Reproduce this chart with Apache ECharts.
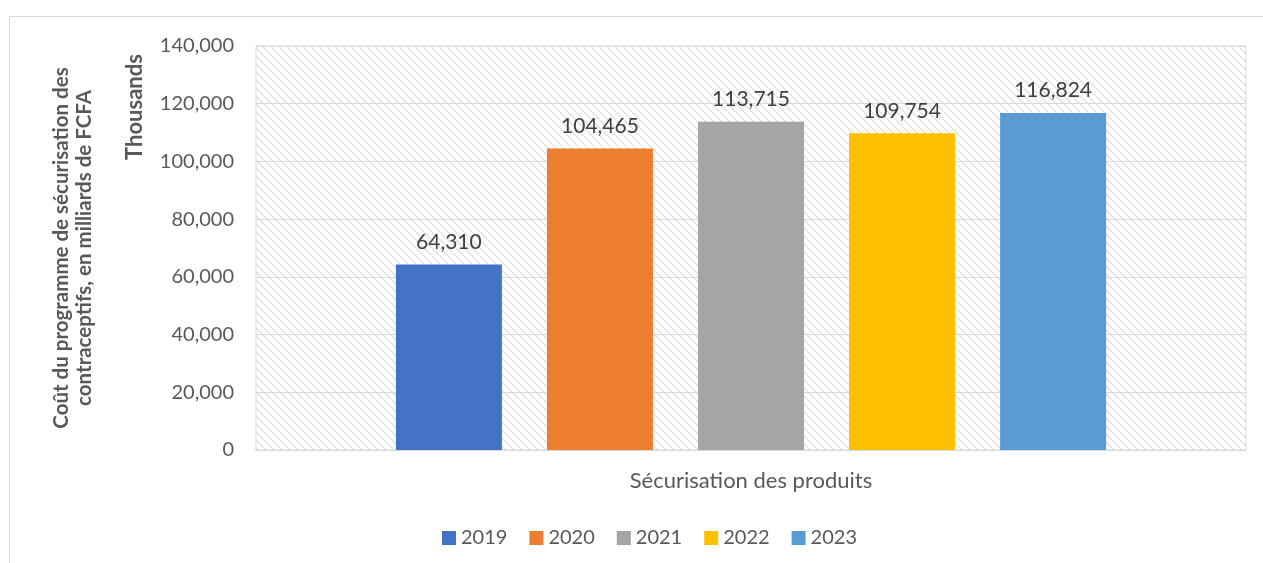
<!DOCTYPE html>
<html>
<head>
<meta charset="utf-8">
<script src="https://cdn.jsdelivr.net/npm/echarts@6/dist/echarts.min.js"></script>
<style>
  html, body { margin: 0; padding: 0; background: #ffffff; }
  #chart { width: 1263px; height: 563px; }
</style>
</head>
<body>
<div id="chart"></div>
<script>
// Chart data (values in thousands)
const categories = ['Sécurisation des produits'];
const years = ['2019', '2020', '2021', '2022', '2023'];
const values = [64310, 104465, 113715, 109754, 116824];
const colors = ['#4472C4', '#ED7D31', '#A5A5A5', '#FFC000', '#5B9BD5'];
const yTicks = { min: 0, max: 140000, interval: 20000 };
const yTitle = 'Coût du programme de sécurisation des\ncontraceptifs, en milliards de FCFA';
const unitLabel = 'Thousands';

const FONT = 'Lato, "Open Sans", sans-serif';
const fmt = v => Number(v).toLocaleString('en-US');

// Light diagonal hatch for the plot background
function hatchPattern() {
  const c = document.createElement('canvas');
  c.width = 8; c.height = 8;
  const ctx = c.getContext('2d');
  ctx.fillStyle = '#ffffff';
  ctx.fillRect(0, 0, 8, 8);
  ctx.strokeStyle = '#e6e6e6';
  ctx.lineWidth = 1.8;
  for (let x = -8; x <= 8; x += 8) {
    ctx.beginPath();
    ctx.moveTo(x, 0);
    ctx.lineTo(x + 8, 8);
    ctx.stroke();
  }
  return { image: c, repeat: 'repeat' };
}

const chart = echarts.init(document.getElementById('chart'), null, { renderer: 'canvas' });

const series = years.map((y, i) => ({
  name: y,
  type: 'bar',
  data: [values[i]],
  barWidth: 106,
  barGap: '42.5%',
  itemStyle: { color: colors[i] },
  label: {
    show: true,
    position: 'top',
    distance: 12,
    formatter: p => fmt(p.value),
    fontFamily: FONT,
    fontSize: 21,
    color: '#404040'
  }
}));

chart.setOption({
  animation: false,
  backgroundColor: '#ffffff',
  textStyle: { fontFamily: FONT },
  grid: {
    left: 256, right: 17, top: 46, bottom: 113,
    show: true,
    borderColor: '#d9d9d9',
    borderWidth: 1,
    backgroundColor: hatchPattern()
  },
  legend: {
    data: years,
    left: 437,
    top: 523,
    icon: 'rect',
    itemWidth: 14,
    itemHeight: 14,
    itemGap: 22,
    textStyle: { fontFamily: FONT, fontSize: 20, color: '#595959' }
  },
  xAxis: {
    type: 'category',
    data: categories,
    axisLine: { show: true, lineStyle: { color: '#d9d9d9' } },
    axisTick: { show: false },
    axisLabel: { margin: 20, fontFamily: FONT, fontSize: 22, color: '#595959' }
  },
  yAxis: {
    type: 'value',
    min: yTicks.min,
    max: yTicks.max,
    interval: yTicks.interval,
    name: yTitle,
    nameLocation: 'middle',
    nameRotate: 90,
    nameGap: 160,
    nameTextStyle: { fontFamily: FONT, fontSize: 20.5, fontWeight: 'bold', color: '#595959', lineHeight: 23 },
    axisLine: { show: false },
    axisTick: { show: false },
    splitLine: { lineStyle: { color: '#d9d9d9', width: 1 } },
    axisLabel: { margin: 22, formatter: v => fmt(v), fontFamily: FONT, fontSize: 20, color: '#595959' }
  },
  graphic: [
    {
      type: 'rect',
      shape: { x: 9.5, y: 16.5, width: 1300, height: 600 },
      style: { fill: 'none', stroke: '#d9d9d9', lineWidth: 1 },
      silent: true
    },
    {
      type: 'text',
      x: 135, y: 107,
      rotation: Math.PI / 2,
      style: {
        text: unitLabel,
        fontFamily: FONT, fontSize: 22, fontWeight: 'bold', fill: '#595959',
        align: 'center', verticalAlign: 'middle'
      }
    }
  ],
  series: series
});
</script>
</body>
</html>
